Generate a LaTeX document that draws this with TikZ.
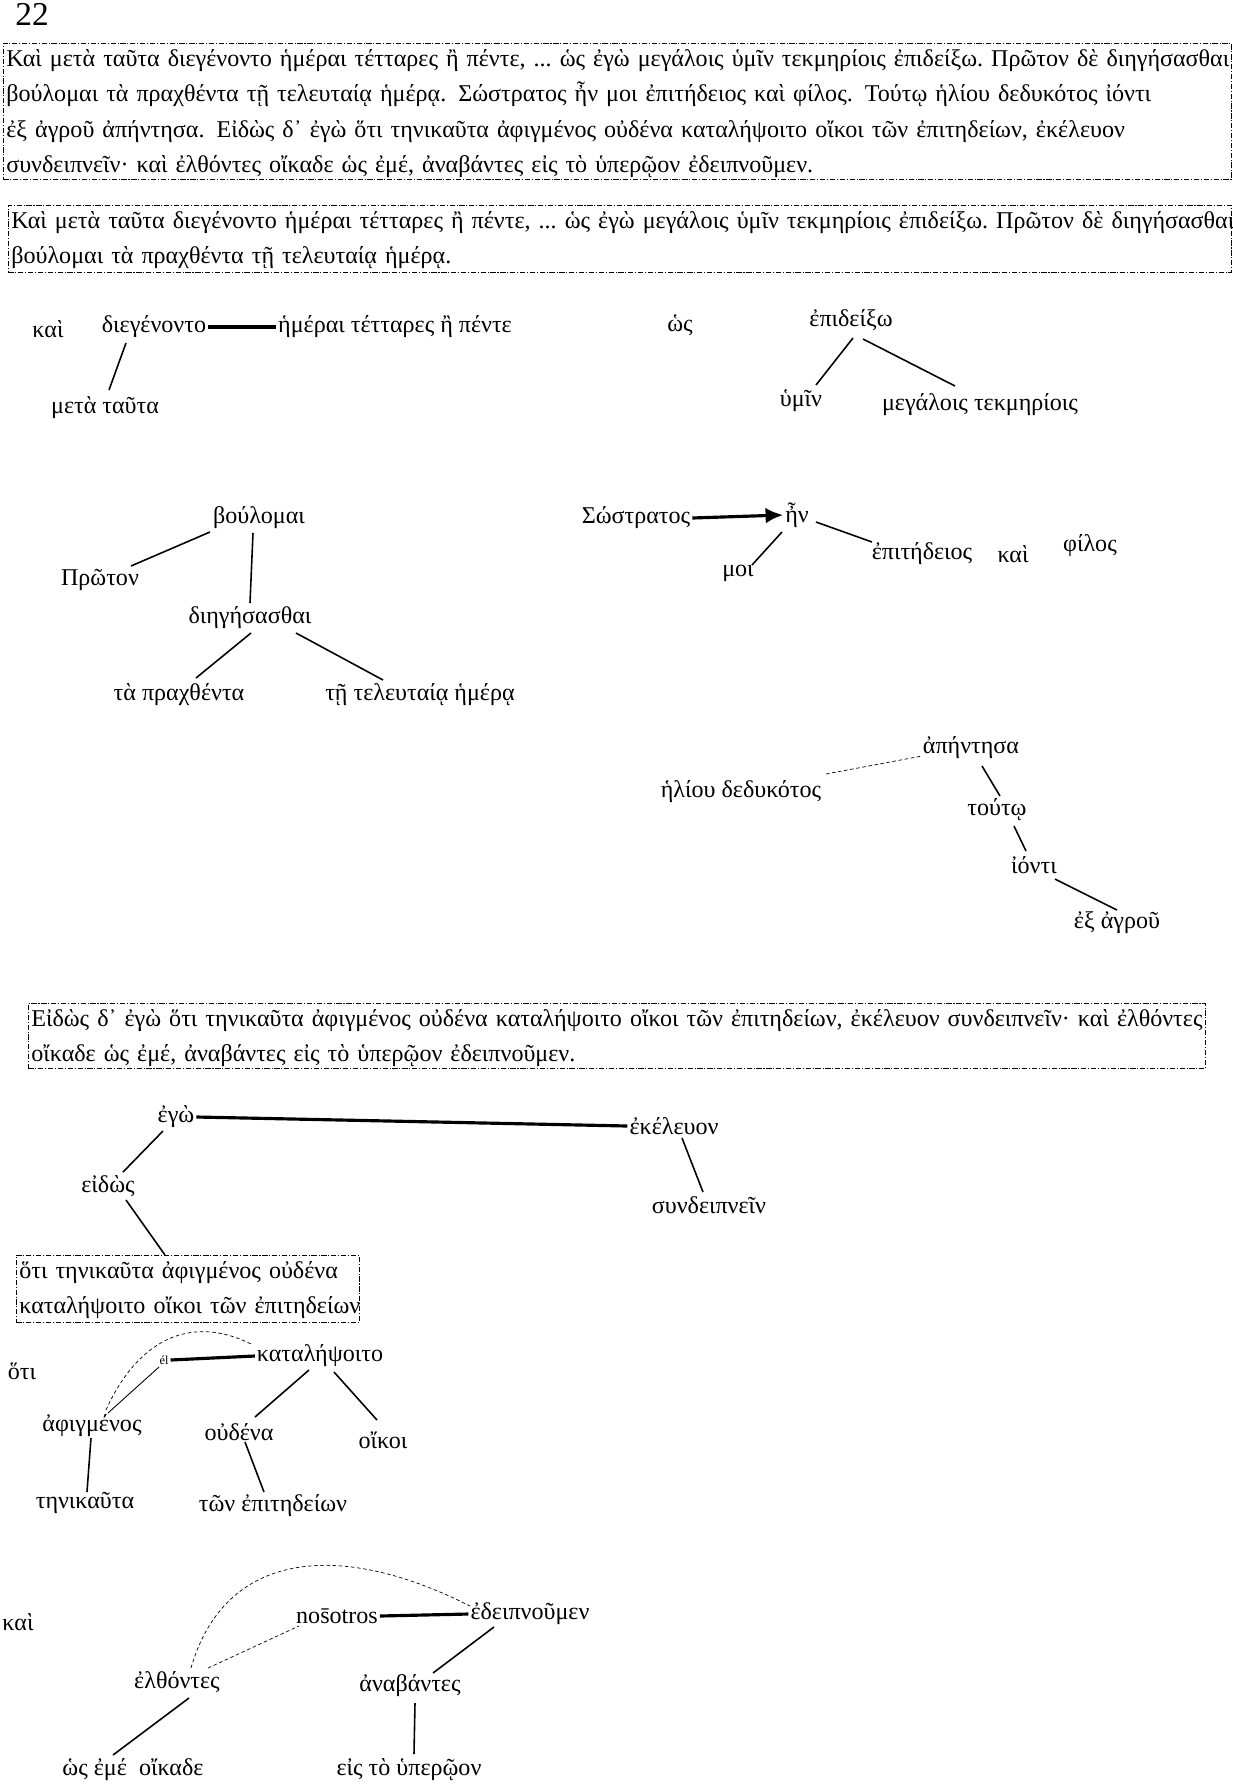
\documentclass[tikz,border=0pt]{standalone}
\usepackage{fontspec}
\setmainfont{Liberation Serif}
\usetikzlibrary{arrows.meta, calc}

\newcommand{\treefont}{\fontsize{13.7}{16}\selectfont}
\newcommand{\boxfont}{\fontsize{13.7}{20.2}\selectfont}
\newcommand{\topstrut}{\rule{0pt}{13pt}}
\newcommand{\botstrut}{\rule[-5pt]{0pt}{5pt}}

\begin{document}
\begin{tikzpicture}[
    x=0.02cm, y=-0.02cm,
    word/.style={inner sep=1pt, font=\treefont},
    tiny/.style={inner sep=1pt, font=\fontsize{7}{8}\selectfont},
    textbox/.style={draw, line width=0.4pt, dash pattern=on 3pt off 1pt on 0.6pt off 1pt,
        anchor=north west, align=left, inner xsep=0.06cm, inner ysep=0pt, font=\boxfont},
    link/.style={line width=0.9pt},
    bond/.style={line width=1.8pt},
    guess/.style={dash pattern=on 2pt off 1.5pt, line width=0.4pt},
    arr/.style={-{Latex[length=10pt, width=9pt]}, line width=1.8pt}
]
\useasboundingbox (0,0) rectangle (1233,1786);

\node[font=\fontsize{19}{22}\selectfont, inner sep=0pt] (page) at (32,14) {22};

\node[textbox, text width=24.44cm] (whole) at (3,43) {%
\mbox{\topstrut Καὶ μετὰ ταῦτα διεγένοντο ἡμέραι τέτταρες ἢ πέντε, ...\ ὡς ἐγὼ μεγάλοις ὑμῖν τεκμηρίοις ἐπιδείξω.\ Πρῶτον δὲ διηγήσασθαι}\\
\mbox{βούλομαι τὰ πραχθέντα τῇ τελευταίᾳ ἡμέρᾳ. Σώστρατος ἦν μοι ἐπιτήδειος καὶ φίλος. Τούτῳ ἡλίου δεδυκότος ἰόντι}\\
\mbox{ἐξ ἀγροῦ ἀπήντησα. Εἰδὼς δ᾽ ἐγὼ ὅτι τηνικαῦτα ἀφιγμένος οὐδένα καταλήψοιτο οἴκοι τῶν ἐπιτηδείων, ἐκέλευον}\\
\mbox{συνδειπνεῖν· καὶ ἐλθόντες οἴκαδε ὡς ἐμέ, ἀναβάντες εἰς τὸ ὑπερῷον ἐδειπνοῦμεν.\rule[-4pt]{0pt}{4pt}}};

\node[textbox, text width=24.34cm] (partA) at (8,205) {%
\mbox{\topstrut Καὶ μετὰ ταῦτα διεγένοντο ἡμέραι τέτταρες ἢ πέντε, ...\ ὡς ἐγὼ μεγάλοις ὑμῖν τεκμηρίοις ἐπιδείξω.\ Πρῶτον δὲ διηγήσασθαι}\\
\mbox{βούλομαι τὰ πραχθέντα τῇ τελευταίᾳ ἡμέρᾳ.\botstrut}};

\node[word] (kaiA) at (48,329) {καὶ};
\node[word] (diegenonto) at (154,327) {διεγένοντο};
\node[word] (hemerai) at (395,327) {ἡμέραι τέτταρες ἢ πέντε};
\node[word] (meta) at (105,408) {μετὰ ταῦτα};
\draw[bond] (diegenonto.east) -- (hemerai.west);
\draw[link] ($(diegenonto)+(-28,16)$) -- ($(meta)+(4,-18)$);

\node[word] (hos) at (680,325) {ὡς};
\node[word] (epideixo) at (851,320) {ἐπιδείξω};
\node[word] (hymin) at (801,401) {ὑμῖν};
\node[word] (megalois) at (980,405) {μεγάλοις τεκμηρίοις};
\draw[link] ($(epideixo)+(2,18)$) -- ($(hymin)+(15,-16)$);
\draw[link] ($(epideixo)+(12,19)$) -- ($(megalois)+(-25,-19)$);

\node[word] (boulomai) at (259,518) {βούλομαι};
\node[word] (proton) at (100,580) {Πρῶτον};
\node[word] (diegesasthai) at (250,618) {διηγήσασθαι};
\node[word] (prachthenta) at (179,695) {τὰ πραχθέντα};
\node[word] (teleutaia) at (420,695) {τῇ τελευταίᾳ ἡμέρᾳ};
\draw[link] ($(boulomai)+(-49,14)$) -- ($(proton)+(31,-14)$);
\draw[link] ($(boulomai)+(-6,15)$) -- ($(diegesasthai)+(0,-15)$);
\draw[link] ($(diegesasthai)+(1,15)$) -- ($(prachthenta)+(17,-17)$);
\draw[link] ($(diegesasthai)+(46,15)$) -- ($(teleutaia)+(-37,-15)$);

\node[word] (sostratos) at (636,518) {Σώστρατος};
\node[word] (en) at (797,515) {ἦν};
\node[word] (moi) at (738,573) {μοι};
\node[word] (epitedeios) at (922,554) {ἐπιτήδειος};
\node[word] (kaiB) at (1013,554) {καὶ};
\node[word] (philos) at (1090,546) {φίλος};
\draw[arr] (sostratos.east) -- (en.west);
\draw[link] ($(en)+(-15,17)$) -- ($(moi)+(14,-8)$);
\draw[link] ($(en)+(19,7)$) -- ($(epitedeios)+(-50,-12)$);

\node[word] (apentesa) at (971,748) {ἀπήντησα};
\node[word] (heliou) at (741,792) {ἡλίου δεδυκότος};
\node[word] (touto) at (997,810) {τούτῳ};
\node[word] (ionti) at (1034,865) {ἰόντι};
\node[word] (exagrou) at (1117,923) {ἐξ ἀγροῦ};
\draw[guess] ($(heliou)+(85,-18)$) -- ($(apentesa)+(-49,8)$);
\draw[link] ($(apentesa)+(11,18)$) -- ($(touto)+(3,-14)$);
\draw[link] ($(touto)+(17,16)$) -- ($(ionti)+(-8,-14)$);
\draw[link] ($(ionti)+(21,14)$) -- ($(exagrou)+(0,-13)$);

\node[textbox, text width=23.42cm] (partB) at (28,1003) {%
\mbox{\topstrut Εἰδὼς δ᾽ ἐγὼ ὅτι τηνικαῦτα ἀφιγμένος οὐδένα καταλήψοιτο οἴκοι τῶν ἐπιτηδείων, ἐκέλευον συνδειπνεῖν· καὶ ἐλθόντες}\\
\mbox{οἴκαδε ὡς ἐμέ, ἀναβάντες εἰς τὸ ὑπερῷον ἐδειπνοῦμεν.\rule[-4pt]{0pt}{4pt}}};

\node[word] (ego) at (176,1117) {ἐγὼ};
\node[word] (ekeleuon) at (674,1126) {ἐκέλευον};
\node[word] (eidos) at (108,1186) {εἰδὼς};
\node[word] (syndeipnein) at (709,1205) {συνδειπνεῖν};
\node[textbox, text width=6.74cm] (hotibox) at (16,1255) {%
\mbox{\topstrut ὅτι τηνικαῦτα ἀφιγμένος οὐδένα}\\
\mbox{καταλήψοιτο οἴκοι τῶν ἐπιτηδείων\botstrut}};
\draw[bond] (ego.east) -- (ekeleuon.west);
\draw[link] ($(ego)+(-13,14)$) -- ($(eidos)+(15,-14)$);
\draw[link] ($(ekeleuon)+(8,12)$) -- ($(syndeipnein)+(-6,-13)$);
\draw[link] ($(eidos)+(18,14)$) -- ($(hotibox.north west)+(149,0)$);

\node[word] (hoti) at (22,1371) {ὅτι};
\node[tiny] (el) at (164,1360) {él};
\node[word] (katalepsoito) at (320,1356) {καταλήψοιτο};
\node[word] (aphigmenos) at (92,1426) {ἀφιγμένος};
\node[word] (oudena) at (239,1432) {οὐδένα};
\node[word] (oikoi) at (383,1440) {οἴκοι};
\node[word] (tenikauta) at (85,1503) {τηνικαῦτα};
\node[word] (ton) at (273,1506) {τῶν ἐπιτηδείων};
\draw[bond] (el.east) -- (katalepsoito.west);
\draw[line width=0.5pt] ($(aphigmenos)+(16,-13)$) -- ($(el)+(-5,7)$);
\draw[guess] ($(aphigmenos)+(14,-16)$) .. controls +(34,-75) and +(-58,-30) .. ($(katalepsoito)+(-67,-11)$);
\draw[link] ($(katalepsoito)+(-11,14)$) -- ($(oudena)+(16,-15)$);
\draw[link] ($(katalepsoito)+(14,16)$) -- ($(oikoi)+(-6,-20)$);
\draw[link] ($(aphigmenos)+(-1,12)$) -- ($(tenikauta)+(2,-11)$);
\draw[link] ($(oudena)+(6,10)$) -- ($(ton)+(-9,-14)$);

\node[word] (kaiC) at (18,1622) {καὶ};
\node[word] (nosotros) at (337,1616) {nos̄otros};
\node[word] (edeipnoumen) at (530,1614) {ἐδειπνοῦμεν};
\node[word] (elthontes) at (177,1682) {ἐλθόντες};
\node[word] (anabantes) at (410,1686) {ἀναβάντες};
\node[word] (hoseme) at (133,1770) {ὡς ἐμέ~ οἴκαδε};
\node[word] (eis) at (409,1770) {εἰς τὸ ὑπερῷον};
\draw[bond] (nosotros.east) -- (edeipnoumen.west);
\draw[guess] ($(elthontes)+(31,-14)$) -- ($(nosotros)+(-38,10)$);
\draw[guess] ($(elthontes)+(14,-14)$) .. controls +(34,-118) and +(-130,-66) .. ($(edeipnoumen)+(-60,-8)$);
\draw[link] ($(edeipnoumen)+(-36,13)$) -- ($(anabantes)+(23,-13)$);
\draw[link] ($(anabantes)+(5,17)$) -- ($(eis)+(5,-16)$);
\draw[link] ($(elthontes)+(12,16)$) -- ($(hoseme)+(-20,-15)$);
\end{tikzpicture}
\end{document}
